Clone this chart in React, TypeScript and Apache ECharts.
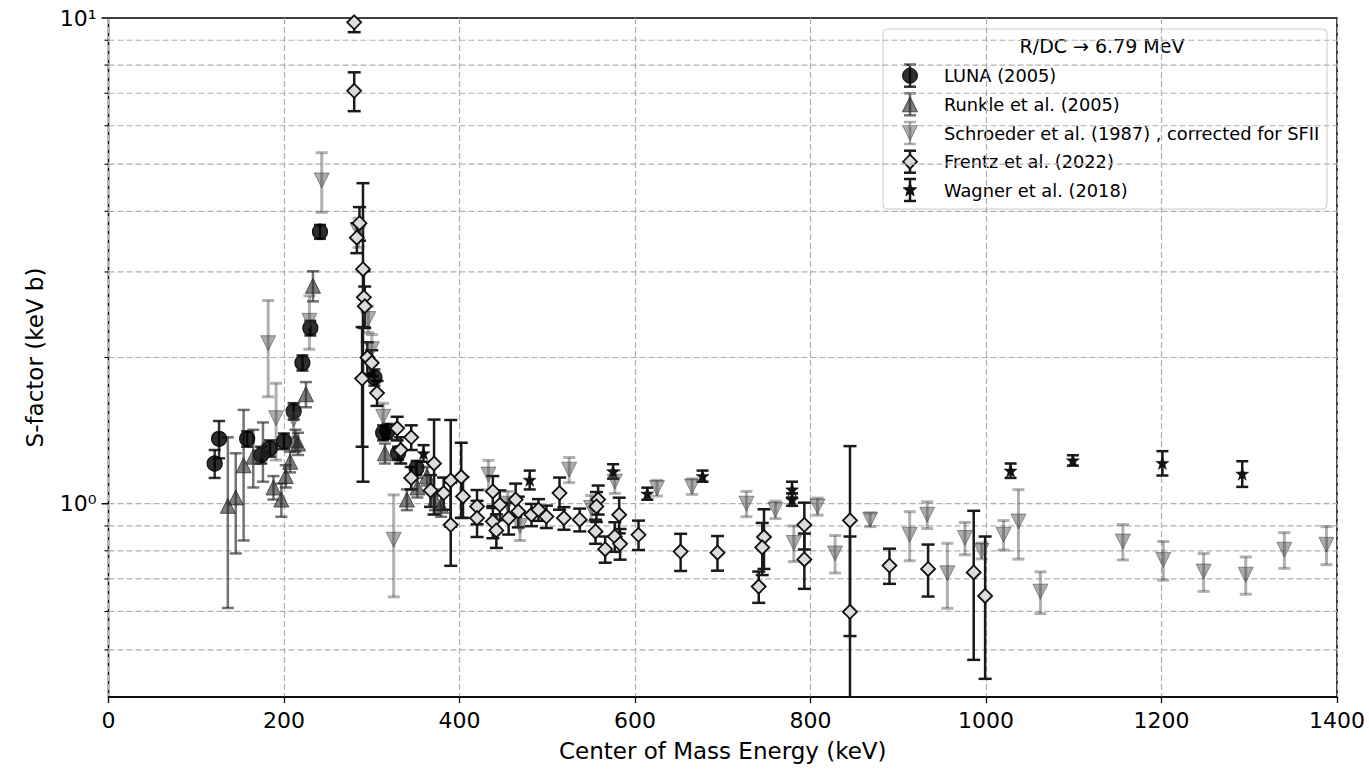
import React, { useEffect, useRef } from 'react';
import * as echarts from 'echarts';

// ---------------- data ----------------
const lunaE = [121, 126, 158, 174, 184, 200, 211, 221, 230, 241, 303, 313, 318, 330, 351];
const lunaS = [1.21, 1.36, 1.36, 1.26, 1.30, 1.345, 1.55, 1.95, 2.30, 3.63, 1.82, 1.40, 1.41, 1.27, 1.185];
const lunaErr = [0.08, 0.12, 0.05, 0.05, 0.05, 0.05, 0.06, 0.07, 0.08, 0.12, 0.07, 0.05, 0.05, 0.04, 0.04];

const runkleE = [136, 145, 154, 165, 176, 188, 197, 202, 207, 213, 216, 225, 233, 315, 340, 352, 363, 372, 379];
const runkleS = [0.99, 1.03, 1.20, 1.25, 1.29, 1.08, 1.02, 1.14, 1.22, 1.35, 1.33, 1.68, 2.81, 1.27, 1.02, 1.08, 1.14, 1.02, 0.99];
const runkleErr = [0.38, 0.24, 0.36, 0.17, 0.18, 0.06, 0.08, 0.06, 0.06, 0.07, 0.07, 0.1, 0.2, 0.06, 0.05, 0.05, 0.05, 0.05, 0.05];

const schE = [182, 191, 211, 229, 243, 285, 296, 300, 313, 325, 433, 455, 469, 525, 550, 577, 625, 665, 727, 760, 781, 808, 828, 868, 913, 933, 956, 976, 995, 1020, 1037, 1062, 1156, 1202, 1248, 1296, 1340, 1388];
const schS = [2.14, 1.50, 1.49, 2.38, 4.63, 3.62, 2.40, 2.08, 1.51, 0.843, 1.148, 1.0, 0.90, 1.175, 0.98, 1.11, 1.077, 1.085, 1.0, 0.972, 0.83, 0.987, 0.79, 0.927, 0.863, 0.949, 0.719, 0.85, 0.80, 0.863, 0.919, 0.659, 0.836, 0.766, 0.725, 0.714, 0.804, 0.823];
const schErr = [0.48, 0.27, 0.12, 0.3, 0.65, 0.25, 0.15, 0.15, 0.1, 0.2, 0.08, 0.06, 0.06, 0.07, 0.06, 0.06, 0.04, 0.04, 0.06, 0.04, 0.07, 0.04, 0.07, 0.03, 0.1, 0.06, 0.11, 0.065, 0.03, 0.06, 0.15, 0.065, 0.07, 0.07, 0.065, 0.063, 0.068, 0.074];

const frE = [280, 280, 286, 283, 290, 291, 292, 295, 300, 289, 306, 329, 333, 345, 345, 371, 367, 382, 390, 390, 402, 404, 420, 420, 438, 446, 438, 442, 456, 464, 467, 482, 490, 499, 514, 519, 537, 558, 556, 555, 566, 577, 582, 583, 604, 652, 694, 747, 745, 741, 793, 793, 845, 845, 890, 934, 986, 999];
const frS = [9.8, 7.08, 3.78, 3.53, 3.04, 2.66, 2.55, 2.0, 1.95, 1.81, 1.69, 1.43, 1.29, 1.37, 1.13, 1.21, 1.065, 1.052, 1.117, 0.905, 1.135, 1.035, 0.987, 0.934, 1.06, 0.995, 0.919, 0.881, 0.934, 1.02, 0.964, 0.949, 0.972, 0.941, 1.052, 0.934, 0.927, 1.02, 0.987, 0.877, 0.806, 0.856, 0.949, 0.827, 0.863, 0.797, 0.793, 0.854, 0.813, 0.675, 0.905, 0.768, 0.924, 0.599, 0.746, 0.734, 0.722, 0.646];
const frErrMinus = [0.45, 0.65, 0.3, 0.25, 1.93, 0.35, 0.25, 0.15, 0.12, 0.5, 0.1, 0.08, 0.08, 0.08, 0.06, 0.26, 0.08, 0.08, 0.22, 0.16, 0.2, 0.1, 0.08, 0.08, 0.08, 0.07, 0.07, 0.07, 0.07, 0.08, 0.07, 0.05, 0.05, 0.05, 0.08, 0.05, 0.05, 0.07, 0.07, 0.05, 0.05, 0.06, 0.08, 0.06, 0.06, 0.07, 0.065, 0.12, 0.1, 0.05, 0.1, 0.1, 0.39, 0.257, 0.062, 0.09, 0.245, 0.21];
const frErrPlus = [0.45, 0.65, 0.3, 0.25, 1.53, 0.35, 0.25, 0.15, 0.12, 0.5, 0.1, 0.08, 0.08, 0.08, 0.06, 0.28, 0.08, 0.08, 0.37, 0.2, 0.2, 0.1, 0.08, 0.08, 0.08, 0.07, 0.07, 0.07, 0.07, 0.08, 0.07, 0.05, 0.05, 0.05, 0.08, 0.05, 0.05, 0.07, 0.07, 0.05, 0.05, 0.06, 0.08, 0.06, 0.06, 0.07, 0.065, 0.12, 0.1, 0.05, 0.1, 0.1, 0.39, 0.257, 0.062, 0.09, 0.245, 0.21];

const wagE = [359, 480, 575, 614, 677, 779, 779, 1028, 1099, 1201, 1292];
const wagS = [1.27, 1.12, 1.166, 1.049, 1.14, 1.07, 1.02, 1.17, 1.228, 1.213, 1.153];
const wagErr = [0.05, 0.05, 0.04, 0.03, 0.03, 0.04, 0.03, 0.04, 0.03, 0.07, 0.07];

const xTickValues = [0, 200, 400, 600, 800, 1000, 1200, 1400];
const yMajorTicks = [1, 10];
const yMinorTicks = [0.5, 0.6, 0.7, 0.8, 0.9, 2, 3, 4, 5, 6, 7, 8, 9];
const yGridValues = [0.5, 0.6, 0.7, 0.8, 0.9, 1, 2, 3, 4, 5, 6, 7, 8, 9];

const legendTitle = 'R/DC \u2192 6.79 MeV';
const legendNames = [
  'LUNA (2005)',
  'Runkle et al. (2005)',
  'Schroeder et al. (1987) , corrected for SFII',
  'Frentz et al. (2022)',
  'Wagner et al. (2018)',
];

// ---------------- styles ----------------
const FONT = '"DejaVu Sans", sans-serif';
const STAR = 'path://M0,-10L2.35,-3.24L9.51,-3.09L3.8,1.24L5.88,8.09L0,4L-5.88,8.09L-3.8,1.24L-9.51,-3.09L-2.35,-3.24Z';

const STY = {
  luna: { fill: 'rgba(0,0,0,0.82)', stroke: 'rgba(0,0,0,0.9)', bar: 'rgba(0,0,0,0.8)', symbol: 'circle', size: 15, rotate: 0 },
  runkle: { fill: 'rgba(40,40,40,0.6)', stroke: 'rgba(40,40,40,0.75)', bar: 'rgba(40,40,40,0.65)', symbol: 'triangle', size: 15, rotate: 0 },
  sch: { fill: 'rgba(60,60,60,0.42)', stroke: 'rgba(60,60,60,0.5)', bar: 'rgba(60,60,60,0.4)', symbol: 'triangle', size: 15, rotate: 180 },
  fr: { fill: '#dcdcdc', stroke: '#111', bar: '#1a1a1a', symbol: 'diamond', size: 14, rotate: 0 },
  wag: { fill: '#111', stroke: '#111', bar: '#1a1a1a', symbol: STAR, size: 13, rotate: 0 },
};

function symErr(E: number[], S: number[], err: number[]) {
  return E.map((e, i) => [e, S[i] - err[i], S[i] + err[i]]);
}
function asymErr(E: number[], S: number[], m: number[], p: number[]) {
  return E.map((e, i) => [e, S[i] - m[i], S[i] + p[i]]);
}
function pts(E: number[], S: number[]) {
  return E.map((e, i) => [e, S[i]]);
}

function errSeries(name: string, data: number[][], color: string, lw: number, cap: number) {
  return {
    type: 'custom',
    name: name + '-err',
    silent: true,
    clip: true,
    z: 2,
    data,
    encode: { x: 0, y: [1, 2] },
    renderItem: (params: any, api: any) => {
      const x = api.value(0);
      const lo = api.coord([x, api.value(1)]);
      const hi = api.coord([x, api.value(2)]);
      const st = { stroke: color, lineWidth: lw };
      return {
        type: 'group',
        children: [
          { type: 'line', shape: { x1: lo[0], y1: lo[1], x2: hi[0], y2: hi[1] }, style: st },
          { type: 'line', shape: { x1: lo[0] - cap, y1: lo[1], x2: lo[0] + cap, y2: lo[1] }, style: st },
          { type: 'line', shape: { x1: hi[0] - cap, y1: hi[1], x2: hi[0] + cap, y2: hi[1] }, style: st },
        ],
      };
    },
  };
}

function scatterSeries(name: string, data: number[][], s: any, bw: number) {
  return {
    type: 'scatter',
    name,
    z: 2,
    data,
    symbol: s.symbol,
    symbolSize: s.size,
    symbolRotate: s.rotate,
    itemStyle: { color: s.fill, borderColor: s.stroke, borderWidth: bw, opacity: 1 },
    emphasis: { disabled: true },
  };
}

function tickSeries(name: string, values: number[], len: number, lw: number) {
  return {
    type: 'custom',
    name,
    silent: true,
    clip: false,
    z: 5,
    data: values.map((v) => [0, v]),
    encode: { x: 0, y: 1 },
    renderItem: (params: any, api: any) => {
      const p = api.coord([0, api.value(1)]);
      return { type: 'line', shape: { x1: p[0] - len, y1: p[1], x2: p[0], y2: p[1] }, style: { stroke: '#000', lineWidth: lw } };
    },
  };
}

function legendGlyph(kind: string, cx: number, cy: number) {
  const s: any = (STY as any)[kind];
  const els: any[] = [];
  const bst = { stroke: s.bar, lineWidth: 2.5 };
  els.push({ type: 'line', shape: { x1: cx, y1: cy - 11, x2: cx, y2: cy + 11 }, style: bst });
  els.push({ type: 'line', shape: { x1: cx - 6, y1: cy - 11, x2: cx + 6, y2: cy - 11 }, style: bst });
  els.push({ type: 'line', shape: { x1: cx - 6, y1: cy + 11, x2: cx + 6, y2: cy + 11 }, style: bst });
  const r = 7.5;
  const mst = { fill: s.fill, stroke: s.stroke, lineWidth: kind === 'fr' ? 1.8 : 1 };
  if (kind === 'luna') {
    els.push({ type: 'circle', shape: { cx, cy, r }, style: mst });
  } else if (kind === 'runkle') {
    els.push({ type: 'polygon', shape: { points: [[cx, cy - r], [cx + r, cy + r], [cx - r, cy + r]] }, style: mst });
  } else if (kind === 'sch') {
    els.push({ type: 'polygon', shape: { points: [[cx, cy + r], [cx + r, cy - r], [cx - r, cy - r]] }, style: mst });
  } else if (kind === 'fr') {
    els.push({ type: 'polygon', shape: { points: [[cx, cy - 7], [cx + 7, cy], [cx, cy + 7], [cx - 7, cy]] }, style: mst });
  } else {
    const p: number[][] = [];
    for (let k = 0; k < 10; k++) {
      const a = -Math.PI / 2 + (k * Math.PI) / 5;
      const rr = k % 2 === 0 ? 7 : 2.9;
      p.push([cx + rr * Math.cos(a), cy + rr * Math.sin(a)]);
    }
    els.push({ type: 'polygon', shape: { points: p }, style: mst });
  }
  return els;
}

function buildLegend() {
  const kinds = ['luna', 'runkle', 'sch', 'fr', 'wag'];
  const rowsY = [75.7, 104.3, 133, 161.7, 190];
  const children: any[] = [
    { type: 'rect', shape: { x: 883, y: 29, width: 444, height: 180, r: 4 }, style: { fill: 'rgba(255,255,255,0.85)', stroke: '#cccccc', lineWidth: 1 } },
    { type: 'text', x: 1102, y: 46, style: { text: legendTitle, font: '19px ' + FONT, fill: '#000', align: 'center', verticalAlign: 'middle' } },
  ];
  kinds.forEach((k, i) => {
    legendGlyph(k, 910, rowsY[i]).forEach((e) => children.push(e));
    children.push({ type: 'text', x: 944, y: rowsY[i], style: { text: legendNames[i], font: '17.8px ' + FONT, fill: '#000', align: 'left', verticalAlign: 'middle' } });
  });
  return [{ type: 'group', z: 100, silent: true, children }];
}

export default function App() {
  const ref = useRef<HTMLDivElement>(null);
  useEffect(() => {
    if (!ref.current) return;
    const chart = echarts.init(ref.current, null, { renderer: 'svg' });
    const option: any = {
      animation: false,
      backgroundColor: '#ffffff',
      grid: { left: 108.5, right: 32, top: 18, bottom: 75, show: true, borderColor: '#000', borderWidth: 1.5, backgroundColor: 'transparent' },
      xAxis: {
        type: 'value',
        min: xTickValues[0],
        max: xTickValues[xTickValues.length - 1],
        interval: 200,
        name: 'Center of Mass Energy (keV)',
        nameLocation: 'middle',
        nameGap: 42,
        nameTextStyle: { fontFamily: FONT, fontSize: 23, color: '#000' },
        axisLine: { show: true, lineStyle: { color: '#000', width: 1.5 } },
        axisTick: { show: true, inside: false, length: 6, lineStyle: { color: '#000', width: 1.3 } },
        axisLabel: { fontFamily: FONT, fontSize: 22, color: '#000', margin: 12, formatter: (v: number) => String(v) },
        splitLine: { show: true, lineStyle: { color: '#b0b0b0', width: 1.2, type: [6, 3] } },
      },
      yAxis: {
        type: 'log',
        logBase: 10,
        min: 0.4,
        max: 10,
        name: 'S-factor (keV b)',
        nameLocation: 'middle',
        nameGap: 62,
        nameTextStyle: { fontFamily: FONT, fontSize: 23, color: '#000' },
        axisLine: { show: false },
        axisTick: { show: false },
        splitLine: { show: false },
        minorSplitLine: { show: false },
        axisLabel: {
          fontFamily: FONT,
          fontSize: 22,
          color: '#000',
          margin: 12,
          showMaxLabel: true,
          formatter: (v: number) => (Math.abs(v - 10) < 1e-6 ? '10\u00b9' : Math.abs(v - 1) < 1e-6 ? '10\u2070' : ''),
        },
      },
      series: [
        {
          type: 'custom',
          name: 'ygrid',
          silent: true,
          clip: false,
          z: 1,
          data: yGridValues.map((v) => [0, v]),
          encode: { x: 0, y: 1 },
          renderItem: (params: any, api: any) => {
            const cs = params.coordSys;
            const y = api.coord([0, api.value(1)])[1];
            return { type: 'line', shape: { x1: cs.x, y1: y, x2: cs.x + cs.width, y2: y }, style: { stroke: '#b0b0b0', lineWidth: 1.2, lineDash: [6, 3] } };
          },
        },
        tickSeries('majorTicks', yMajorTicks, 7, 1.5),
        tickSeries('minorTicks', yMinorTicks, 4, 1.1),
        errSeries('LUNA (2005)', symErr(lunaE, lunaS, lunaErr), STY.luna.bar, 2.5, 6),
        scatterSeries('LUNA (2005)', pts(lunaE, lunaS), STY.luna, 1.2),
        errSeries('Runkle et al. (2005)', symErr(runkleE, runkleS, runkleErr), STY.runkle.bar, 2.5, 6),
        scatterSeries('Runkle et al. (2005)', pts(runkleE, runkleS), STY.runkle, 1),
        errSeries('Schroeder et al. (1987)', symErr(schE, schS, schErr), STY.sch.bar, 3, 6),
        scatterSeries('Schroeder et al. (1987)', pts(schE, schS), STY.sch, 1),
        errSeries('Frentz et al. (2022)', asymErr(frE, frS, frErrMinus, frErrPlus), STY.fr.bar, 2.5, 6.5),
        scatterSeries('Frentz et al. (2022)', pts(frE, frS), STY.fr, 1.8),
        errSeries('Wagner et al. (2018)', symErr(wagE, wagS, wagErr), STY.wag.bar, 2.5, 6),
        scatterSeries('Wagner et al. (2018)', pts(wagE, wagS), STY.wag, 0.5),
      ],
      graphic: buildLegend(),
    };
    chart.setOption(option);
    return () => chart.dispose();
  }, []);
  return <div ref={ref} style={{ position: 'absolute', left: 0, top: 0, width: '1369px', height: '772px' }} />;
}
